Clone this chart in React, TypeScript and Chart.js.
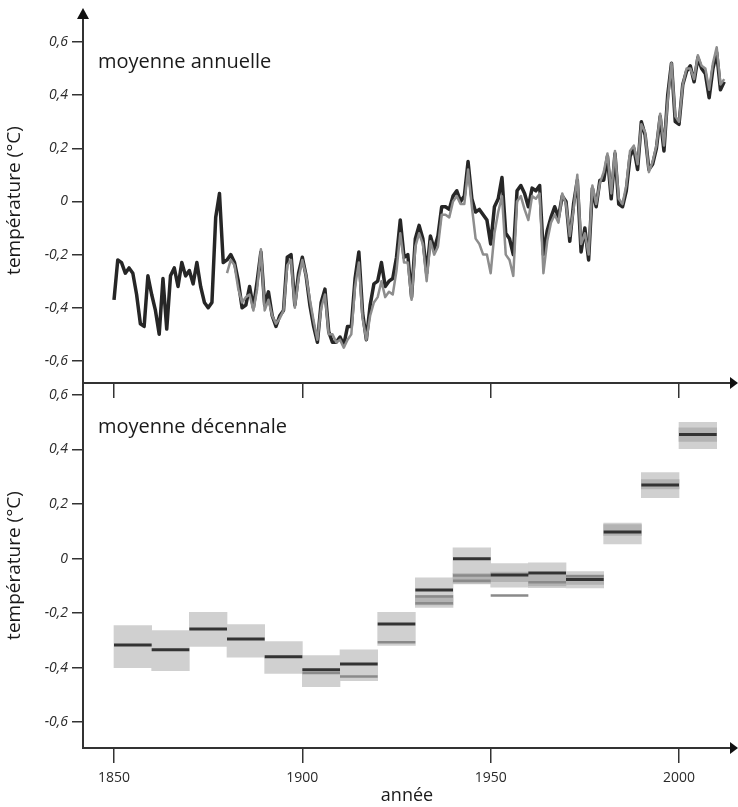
import React, { useEffect, useRef } from "react";
import { Chart, registerables } from "chart.js";
Chart.register(...registerables);

// ---------- data ----------
const DARK_FIRST_YEAR = 1850;
const GREY_FIRST_YEAR = 1880;

// annual mean, dark series (1850–2012)
const annualDark = [
  -0.37, -0.22, -0.23, -0.27, -0.25, -0.27, -0.35, -0.46, -0.47, -0.28,
  -0.35, -0.41, -0.50, -0.29, -0.48, -0.28, -0.25, -0.32, -0.23, -0.28,
  -0.26, -0.31, -0.23, -0.32, -0.38, -0.40, -0.38, -0.06, 0.03, -0.23,
  -0.22, -0.20, -0.23, -0.30, -0.40, -0.39, -0.32, -0.40, -0.30, -0.19,
  -0.39, -0.34, -0.43, -0.47, -0.43, -0.41, -0.21, -0.20, -0.39, -0.27,
  -0.21, -0.28, -0.39, -0.47, -0.53, -0.38, -0.33, -0.49, -0.53, -0.53,
  -0.51, -0.54, -0.47, -0.47, -0.29, -0.19, -0.42, -0.52, -0.39, -0.31,
  -0.30, -0.23, -0.32, -0.30, -0.29, -0.21, -0.07, -0.21, -0.20, -0.36,
  -0.14, -0.09, -0.14, -0.27, -0.13, -0.18, -0.13, -0.02, -0.02, -0.03,
  0.02, 0.04, 0.0, 0.02, 0.15, 0.01, -0.04, -0.03, -0.05, -0.07,
  -0.16, -0.02, 0.01, 0.09, -0.12, -0.14, -0.2, 0.04, 0.06, 0.03,
  -0.02, 0.05, 0.04, 0.06, -0.2, -0.11, -0.06, -0.02, -0.06, 0.02,
  0.0, -0.15, -0.01, 0.08, -0.19, -0.1, -0.22, 0.05, -0.02, 0.08,
  0.08, 0.17, 0.01, 0.18, -0.01, -0.02, 0.04, 0.17, 0.2, 0.12,
  0.3, 0.25, 0.12, 0.14, 0.2, 0.32, 0.19, 0.4, 0.52, 0.3,
  0.29, 0.44, 0.49, 0.51, 0.45, 0.54, 0.5, 0.48, 0.39, 0.5,
  0.56, 0.42, 0.45,
];

// annual mean, grey series (1880–2012)
const annualGrey = [
  -0.27, -0.22, -0.24, -0.33, -0.38, -0.36, -0.35, -0.41, -0.33, -0.18,
  -0.41, -0.37, -0.43, -0.46, -0.44, -0.41, -0.24, -0.22, -0.40, -0.29,
  -0.22, -0.28, -0.37, -0.45, -0.52, -0.40, -0.35, -0.50, -0.50, -0.53,
  -0.52, -0.55, -0.52, -0.50, -0.32, -0.23, -0.44, -0.52, -0.43, -0.38,
  -0.36, -0.30, -0.36, -0.34, -0.35, -0.26, -0.12, -0.23, -0.23, -0.37,
  -0.17, -0.12, -0.16, -0.30, -0.15, -0.20, -0.17, -0.05, -0.05, -0.06,
  0.0, 0.02, -0.01, -0.01, 0.12, -0.02, -0.14, -0.16, -0.20, -0.20,
  -0.27, -0.12, -0.04, 0.02, -0.20, -0.22, -0.28, 0.0, 0.02, -0.03,
  -0.07, 0.02, 0.01, 0.03, -0.27, -0.15, -0.08, -0.05, -0.08, 0.03,
  -0.01, -0.13, -0.03, 0.10, -0.16, -0.12, -0.20, 0.06, -0.01, 0.07,
  0.11, 0.18, 0.03, 0.19, 0.01, -0.01, 0.06, 0.19, 0.21, 0.14,
  0.29, 0.26, 0.11, 0.15, 0.21, 0.33, 0.21, 0.38, 0.52, 0.32,
  0.30, 0.44, 0.50, 0.50, 0.46, 0.55, 0.51, 0.50, 0.42, 0.52,
  0.58, 0.44, 0.46,
];

// decadal means
const DECADE = 10;
const decadeStarts = [1850, 1860, 1870, 1880, 1890, 1900, 1910, 1920, 1930, 1940, 1950, 1960, 1970, 1980, 1990, 2000];
const decadeMean = [-0.317, -0.335, -0.258, -0.295, -0.36, -0.408, -0.387, -0.24, -0.115, -0.001, -0.06, -0.053, -0.077, 0.097, 0.27, 0.455];
const decadeLow = [-0.4, -0.411, -0.322, -0.362, -0.421, -0.47, -0.448, -0.319, -0.179, -0.093, -0.105, -0.107, -0.108, 0.054, 0.223, 0.403];
const decadeHigh = [-0.246, -0.264, -0.197, -0.242, -0.305, -0.356, -0.335, -0.197, -0.071, 0.039, -0.018, -0.016, -0.048, 0.13, 0.315, 0.5];
const decadeBandLow = [null, null, null, null, null, null, null, null, -0.17, -0.09, -0.085, -0.1, -0.095, 0.085, 0.255, 0.43];
const decadeBandHigh = [null, null, null, null, null, null, null, null, -0.135, -0.055, -0.05, -0.06, -0.06, 0.125, 0.29, 0.48];
const decadeAltA = [null, null, null, null, null, -0.42, -0.433, -0.307, -0.164, -0.081, -0.136, -0.087, -0.065, null, null, null];
const decadeAltB = [null, null, null, null, null, null, null, null, -0.139, -0.062, null, null, null, null, null, null];

const xTickYears = [1850, 1900, 1950, 2000];
const yTickValues = [-0.6, -0.4, -0.2, 0, 0.2, 0.4, 0.6];

// ---------- styling ----------
const FONT = "'Open Sans', 'DejaVu Sans', sans-serif";
const AXIS = "#333333";
const X_MIN = 1841.77;
const X_MAX = 2013.8;

const fmt = (v: number) => (v === 0 ? "0" : v.toFixed(1).replace(".", ","));

function series(first: number, vals: number[]) {
  return vals.map((v, i) => ({ x: first + i, y: v }));
}
function segments(vals: (number | null)[]) {
  const pts: any[] = [];
  vals.forEach((v, i) => {
    if (v === null) return;
    const s = decadeStarts[i];
    pts.push({ x: s, y: v }, { x: s + DECADE, y: v }, { x: s + DECADE, y: null });
  });
  return pts;
}
function boxes(lo: (number | null)[], hi: (number | null)[]) {
  return decadeStarts.map((s, i) => ({
    x: s + DECADE / 2,
    y: lo[i] === null || hi[i] === null ? null : [lo[i], hi[i]],
  }));
}

function yAxis(min: number, max: number) {
  return {
    type: "linear",
    min,
    max,
    afterBuildTicks: (s: any) => {
      s.ticks = yTickValues.map((v) => ({ value: v }));
    },
    afterFit: (s: any) => {
      s.width = 83;
    },
    grid: { drawOnChartArea: false, drawTicks: true, tickLength: 11, color: AXIS, lineWidth: 1.5 },
    border: { display: true, color: AXIS, width: 2 },
    ticks: {
      color: "#2a2a2a",
      padding: 4,
      font: { family: FONT, size: 14, style: "italic", weight: "normal" },
      callback: (v: any) => fmt(Number(v)),
    },
    title: {
      display: true,
      text: "température (°C)",
      color: "#1a1a1a",
      padding: { top: 3, bottom: 0 },
      font: { family: FONT, size: 19, weight: "normal" },
    },
  };
}

function xAxis(showLabels: boolean, height: number) {
  return {
    type: "linear",
    min: X_MIN,
    max: X_MAX,
    offset: false,
    afterBuildTicks: (s: any) => {
      s.ticks = xTickYears.map((v) => ({ value: v }));
    },
    afterFit: (s: any) => {
      s.height = height;
    },
    grid: { drawOnChartArea: false, drawTicks: true, tickLength: 15, color: AXIS, lineWidth: 1.5, offset: false },
    border: { display: true, color: AXIS, width: 2 },
    ticks: {
      display: showLabels,
      color: "#2a2a2a",
      padding: 7,
      maxRotation: 0,
      font: { family: FONT, size: 14, weight: "normal" },
      callback: (v: any) => String(v),
    },
    title: {
      display: showLabels,
      text: "année",
      color: "#1a1a1a",
      padding: { top: 0, bottom: 0 },
      font: { family: FONT, size: 18, weight: "normal" },
    },
  };
}

function arrowsPlugin(withTop: boolean) {
  return {
    id: "arrows",
    afterDraw(chart: any) {
      const { ctx, chartArea } = chart;
      ctx.save();
      ctx.fillStyle = "#111";
      ctx.beginPath();
      ctx.moveTo(chartArea.right - 1, chartArea.bottom - 6);
      ctx.lineTo(chartArea.right + 7, chartArea.bottom);
      ctx.lineTo(chartArea.right - 1, chartArea.bottom + 6);
      ctx.closePath();
      ctx.fill();
      if (withTop) {
        ctx.beginPath();
        ctx.moveTo(chartArea.left - 6, chartArea.top + 1);
        ctx.lineTo(chartArea.left, chartArea.top - 10);
        ctx.lineTo(chartArea.left + 6, chartArea.top + 1);
        ctx.closePath();
        ctx.fill();
      }
      ctx.restore();
    },
  };
}

function labelPlugin(text: string) {
  return {
    id: "panelLabel",
    afterDraw(chart: any) {
      const { ctx, chartArea } = chart;
      ctx.save();
      ctx.font = `normal 20px ${FONT}`;
      ctx.fillStyle = "#1a1a1a";
      ctx.textBaseline = "middle";
      ctx.textAlign = "left";
      ctx.fillText(text, chartArea.left + 15, chartArea.top + 44);
      ctx.restore();
    },
  };
}

const commonOptions = {
  responsive: false,
  animation: false,
  devicePixelRatio: 1,
  events: [],
  plugins: { legend: { display: false }, tooltip: { enabled: false }, title: { display: false } },
};

export default function App() {
  const topRef = useRef<HTMLCanvasElement | null>(null);
  const botRef = useRef<HTMLCanvasElement | null>(null);

  useEffect(() => {
    const top = new Chart(topRef.current as HTMLCanvasElement, {
      type: "line",
      data: {
        datasets: [
          {
            data: series(GREY_FIRST_YEAR, annualGrey),
            borderColor: "#8d8d8d",
            borderWidth: 2.5,
            pointRadius: 0,
            tension: 0,
            borderJoinStyle: "round",
            order: 0,
          },
          {
            data: series(DARK_FIRST_YEAR, annualDark),
            borderColor: "#262626",
            borderWidth: 3.5,
            pointRadius: 0,
            tension: 0,
            borderJoinStyle: "round",
            order: 1,
          },
        ],
      },
      options: {
        ...commonOptions,
        layout: { padding: { top: 18, right: 7, left: 0, bottom: 0 } },
        scales: { x: xAxis(false, 15), y: yAxis(-0.683, 0.69) },
      } as any,
      plugins: [arrowsPlugin(true), labelPlugin("moyenne annuelle")],
    } as any);

    const bot = new Chart(botRef.current as HTMLCanvasElement, {
      type: "line",
      data: {
        datasets: [
          {
            type: "bar",
            data: boxes(decadeLow, decadeHigh),
            backgroundColor: "#d0d0d0",
            borderWidth: 0,
            barPercentage: 1,
            categoryPercentage: 1,
            grouped: false,
            order: 3,
          },
          {
            type: "bar",
            data: boxes(decadeBandLow, decadeBandHigh),
            backgroundColor: "#b3b3b3",
            borderWidth: 0,
            barPercentage: 1,
            categoryPercentage: 1,
            grouped: false,
            order: 2,
          },
          {
            type: "line",
            data: segments(decadeAltA),
            borderColor: "#8a8a8a",
            borderWidth: 2.5,
            borderCapStyle: "butt",
            pointRadius: 0,
            spanGaps: false,
            order: 1,
          },
          {
            type: "line",
            data: segments(decadeAltB),
            borderColor: "#8a8a8a",
            borderWidth: 2.5,
            borderCapStyle: "butt",
            pointRadius: 0,
            spanGaps: false,
            order: 1,
          },
          {
            type: "line",
            data: segments(decadeMean),
            borderColor: "#333333",
            borderWidth: 3,
            borderCapStyle: "butt",
            pointRadius: 0,
            spanGaps: false,
            order: 0,
          },
        ],
      },
      options: {
        ...commonOptions,
        layout: { padding: { top: 20, right: 7, left: 0, bottom: 0 } },
        scales: { x: xAxis(true, 59), y: yAxis(-0.695, 0.644) },
      } as any,
      plugins: [arrowsPlugin(false), labelPlugin("moyenne décennale")],
    } as any);

    return () => {
      top.destroy();
      bot.destroy();
    };
  }, []);

  return (
    <div style={{ position: "absolute", left: 0, top: 0, width: 738, height: 807, background: "#fff", overflow: "hidden" }}>
      <canvas ref={botRef} width={738} height={444} style={{ position: "absolute", left: 0, top: 363, width: 738, height: 444 }} />
      <canvas ref={topRef} width={738} height={398} style={{ position: "absolute", left: 0, top: 0, width: 738, height: 398 }} />
    </div>
  );
}
